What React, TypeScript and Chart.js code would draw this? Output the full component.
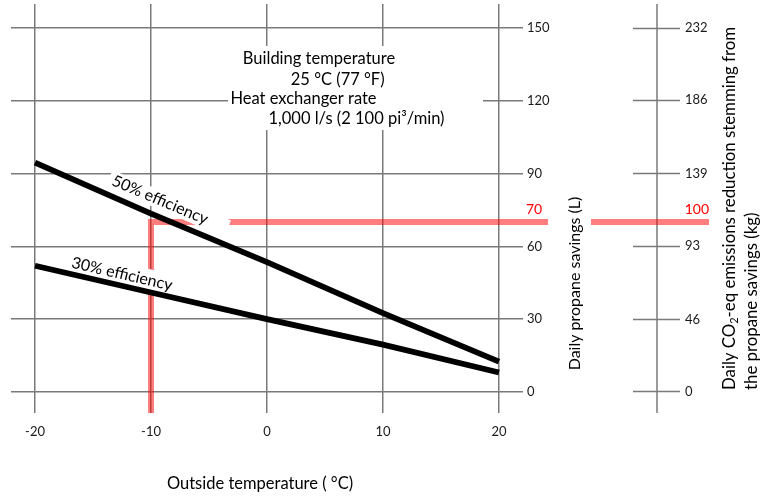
import React, { useEffect, useRef } from "react";
import { Chart, registerables } from "chart.js";

Chart.register(...registerables);

// ---------- data ----------
const temperatures = [-20, -10, 0, 10, 20];
const efficiency50 = [94.5, 73.5, 53.5, 32.5, 12.5];
const efficiency30 = [52, 41, 30, 19.5, 8];
const seriesLabels = ["50% efficiency", "30% efficiency"];
const xTicks = [-20, -10, 0, 10, 20];
const propaneTicks = [0, 30, 60, 90, 120, 150];
const co2Ticks = [0, 46, 93, 139, 186, 232];
const guideTemperature = -10;
const guidePropane = 70;
const guideCo2 = 100;
const noteLines = [
  "Building temperature",
  "25 °C (77 °F)",
  "Heat exchanger rate",
  "1,000 l/s (2 100 pi³/min)",
];
const xTitle = "Outside temperature ( °C)";
const yTitle = "Daily propane savings (L)";
const y2TitleA = "Daily CO";
const y2TitleSub = "2";
const y2TitleB = "-eq emissions reduction stemming from";
const y2TitleLine2 = "the propane savings (kg)";

// ---------- style ----------
const FONT = "Lato, 'Open Sans', sans-serif";
const GRID = "#7a7a7a";
const TEXT = "#1a1a1a";
const X_MIN = -22.07;
const X_MAX = 22.07;
const Y_MIN = -8.67;
const Y_MAX = 159.9;
const CO2_FACTOR = 232 / 150;

function rotLabel(ctx: CanvasRenderingContext2D, text: string, cx: number, cy: number, deg: number, padL: number, padR: number, h: number) {
  ctx.save();
  ctx.translate(cx, cy);
  ctx.rotate((deg * Math.PI) / 180);
  ctx.font = `16px ${FONT}`;
  const w = ctx.measureText(text).width;
  ctx.fillStyle = "#ffffff";
  ctx.fillRect(-w / 2 - padL, -h / 2, w + padL + padR, h);
  ctx.fillStyle = "#000000";
  ctx.textAlign = "center";
  ctx.textBaseline = "middle";
  ctx.fillText(text, 0, 0);
  ctx.restore();
}

const annotPlugin = {
  id: "annot",
  beforeDatasetsDraw(chart: any) {
    const { ctx, chartArea, scales } = chart;
    const x = scales.x;
    const y = scales.y;
    const y2 = scales.y2;
    ctx.save();

    // secondary axis line
    const axisX = y2.left + 24;
    ctx.strokeStyle = GRID;
    ctx.lineWidth = 1.5;
    ctx.beginPath();
    ctx.moveTo(axisX, chartArea.top);
    ctx.lineTo(axisX, chartArea.bottom);
    ctx.stroke();

    // red guide lines
    const gx = x.getPixelForValue(guideTemperature);
    const gy = y.getPixelForValue(guidePropane);
    const hw = 3;
    const xEnd = y2.left + 76;
    ctx.fillStyle = "rgba(255,0,0,0.5)";
    ctx.beginPath();
    ctx.moveTo(gx - hw, chartArea.bottom);
    ctx.lineTo(gx - hw, gy - hw);
    ctx.lineTo(xEnd, gy - hw);
    ctx.lineTo(xEnd, gy + hw);
    ctx.lineTo(gx + hw, gy + hw);
    ctx.lineTo(gx + hw, chartArea.bottom);
    ctx.closePath();
    ctx.fill();

    ctx.fillStyle = "#ff0000";
    ctx.font = `14px ${FONT}`;
    ctx.textBaseline = "middle";
    ctx.textAlign = "left";
    ctx.fillText(String(guidePropane), y.left + 3, gy - 13);
    ctx.textAlign = "right";
    ctx.fillText(String(guideCo2), xEnd, gy - 13);

    // note box
    ctx.fillStyle = "#ffffff";
    ctx.fillRect(228, 46, 255, 84);
    ctx.fillStyle = "#000000";
    ctx.font = `16.5px ${FONT}`;
    ctx.textAlign = "center";
    ctx.textBaseline = "alphabetic";
    const cxs = [319, 337.7, 303.5, 356.5];
    const bys = [64, 85, 104, 124];
    noteLines.forEach((t, i) => ctx.fillText(t, cxs[i], bys[i]));

    // series labels
    rotLabel(ctx, seriesLabels[0], 160, 200, 23, 4, 22, 18);
    rotLabel(ctx, seriesLabels[1], 122, 274, 13, 4, 8, 22);

    // y title
    ctx.fillStyle = "#ffffff";
    ctx.fillRect(548, 188, 43, 194);
    ctx.save();
    ctx.translate(575, 283.5);
    ctx.rotate(-Math.PI / 2);
    ctx.fillStyle = "#000000";
    ctx.font = `16px ${FONT}`;
    ctx.textAlign = "center";
    ctx.textBaseline = "middle";
    ctx.fillText(yTitle, 0, 0);
    ctx.restore();

    // y2 title
    ctx.save();
    ctx.translate(730, 390);
    ctx.rotate(-Math.PI / 2);
    ctx.fillStyle = "#000000";
    ctx.textBaseline = "middle";
    ctx.textAlign = "left";
    ctx.font = `16.8px ${FONT}`;
    ctx.fillText(y2TitleA, 0, 0);
    let off = ctx.measureText(y2TitleA).width;
    ctx.font = `11px ${FONT}`;
    ctx.fillText(y2TitleSub, off, 4);
    off += ctx.measureText(y2TitleSub).width;
    ctx.font = `16.8px ${FONT}`;
    ctx.fillText(y2TitleB, off, 0);
    ctx.fillText(y2TitleLine2, 0, 21.5);
    ctx.restore();

    // x title
    ctx.fillStyle = "#000000";
    ctx.font = `16.5px ${FONT}`;
    ctx.textAlign = "center";
    ctx.textBaseline = "middle";
    ctx.fillText(xTitle, 260, 484);

    ctx.restore();
  },
};

const noPad = (s: any) => {
  s.paddingTop = 0;
  s.paddingBottom = 0;
  s.paddingLeft = 0;
  s.paddingRight = 0;
};

export default function App() {
  const ref = useRef<HTMLCanvasElement | null>(null);
  useEffect(() => {
    if (!ref.current) return;
    Chart.defaults.font.family = FONT;
    const chart = new Chart(ref.current, {
      type: "line",
      data: {
        datasets: [
          {
            label: seriesLabels[0],
            data: temperatures.map((t, i) => ({ x: t, y: efficiency50[i] })),
            borderColor: "#000000",
            borderWidth: 5.8,
            pointRadius: 0,
            tension: 0,
            borderCapStyle: "butt",
          },
          {
            label: seriesLabels[1],
            data: temperatures.map((t, i) => ({ x: t, y: efficiency30[i] })),
            borderColor: "#000000",
            borderWidth: 5.8,
            pointRadius: 0,
            tension: 0,
            borderCapStyle: "butt",
          },
        ],
      },
      options: {
        animation: false,
        responsive: false,
        devicePixelRatio: 1,
        layout: { padding: { left: 11, top: 4, right: 0, bottom: 0 } },
        plugins: { legend: { display: false }, tooltip: { enabled: false } },
        scales: {
          x: {
            type: "linear",
            position: "bottom",
            min: X_MIN,
            max: X_MAX,
            afterBuildTicks: (s: any) => { s.ticks = xTicks.map((v) => ({ value: v })); },
            afterFit: (s: any) => { s.height = 84; noPad(s); },
            grid: { color: GRID, lineWidth: 1.5, drawTicks: false },
            border: { display: false },
            ticks: { color: TEXT, font: { size: 13 }, padding: 11, callback: (v: any) => String(v) },
          },
          y: {
            type: "linear",
            position: "right",
            min: Y_MIN,
            max: Y_MAX,
            afterBuildTicks: (s: any) => { s.ticks = propaneTicks.map((v) => ({ value: v })); },
            afterFit: (s: any) => { s.width = 110; noPad(s); },
            grid: { color: GRID, lineWidth: 1.5, drawTicks: false },
            border: { display: false },
            ticks: { color: TEXT, font: { size: 13 }, padding: 4, callback: (v: any) => String(v) },
          },
          y2: {
            type: "linear",
            position: "right",
            min: Y_MIN * CO2_FACTOR,
            max: Y_MAX * CO2_FACTOR,
            afterBuildTicks: (s: any) => { s.ticks = co2Ticks.map((v) => ({ value: v })); },
            afterFit: (s: any) => { s.width = 138; noPad(s); },
            grid: { drawOnChartArea: false, drawTicks: true, tickLength: 47, tickColor: GRID, tickWidth: 1.5, color: GRID },
            border: { display: false },
            ticks: { color: TEXT, font: { size: 13 }, padding: 5, callback: (v: any) => String(v) },
          },
        },
      },
      plugins: [annotPlugin],
    });
    return () => chart.destroy();
  }, []);
  return (
    <div style={{ position: "absolute", left: 0, top: 0, width: 771, height: 497, background: "#fff" }}>
      <canvas ref={ref} width={771} height={497} style={{ width: 771, height: 497, display: "block" }} />
    </div>
  );
}
